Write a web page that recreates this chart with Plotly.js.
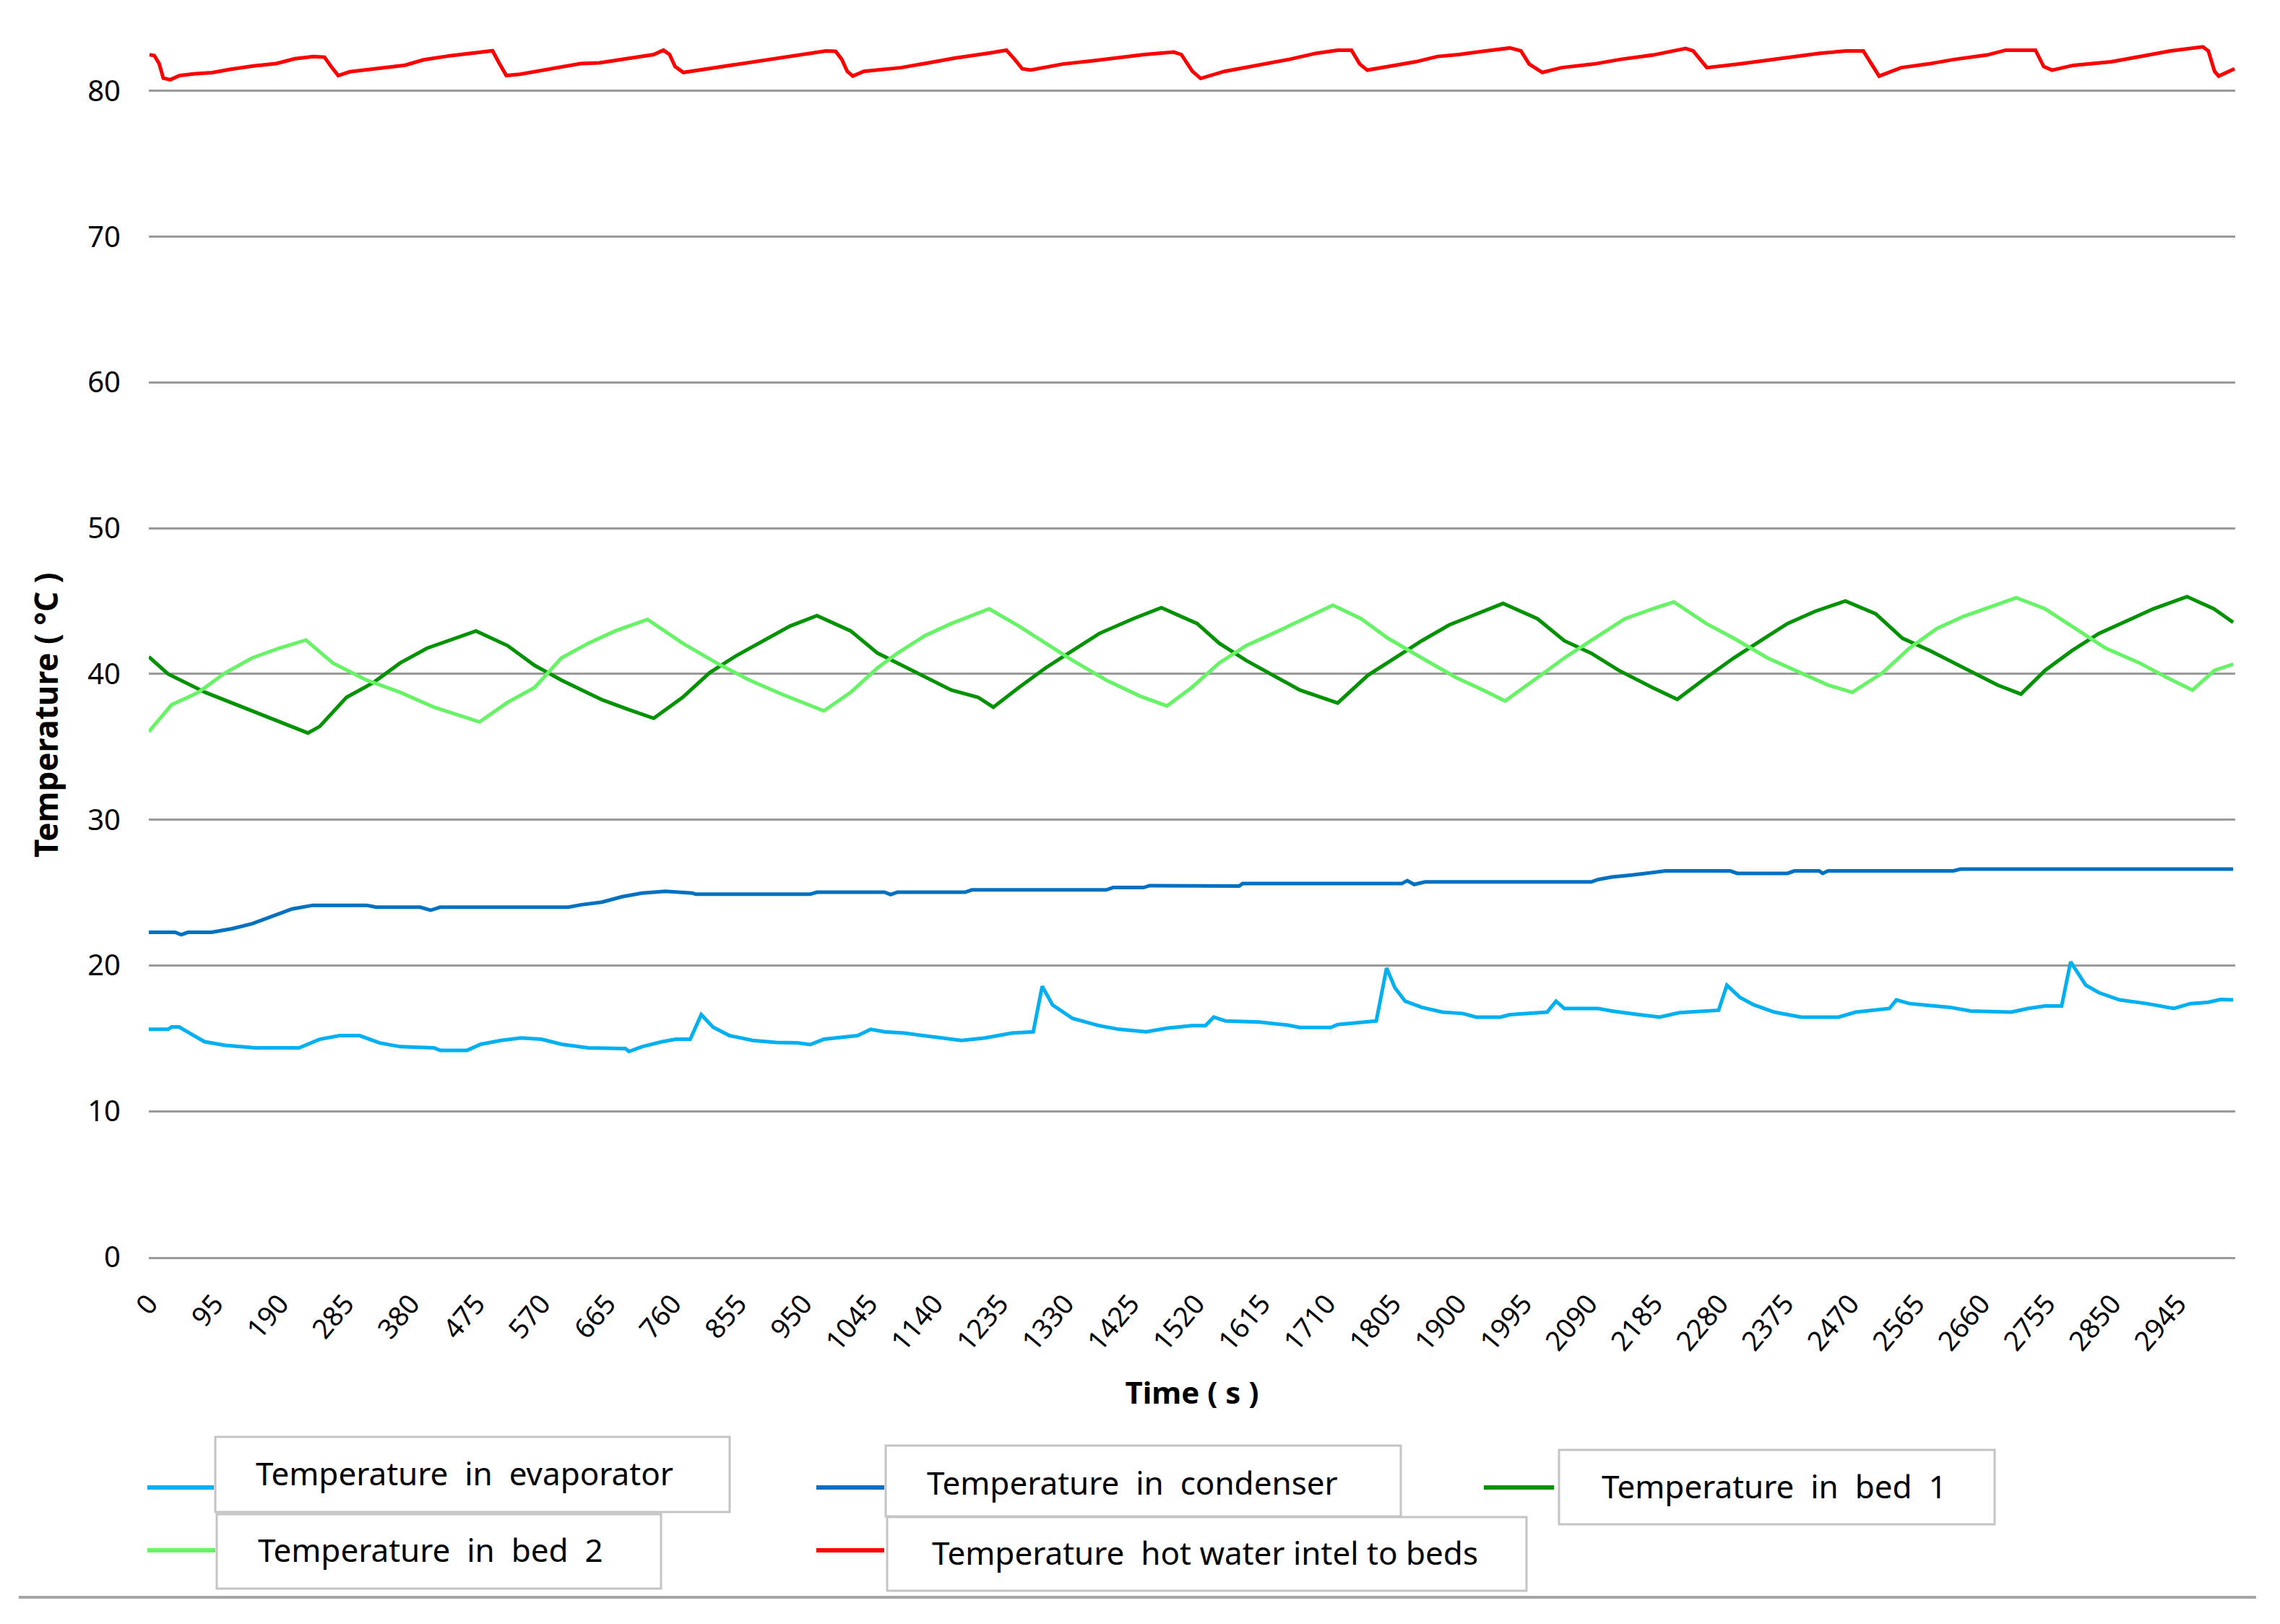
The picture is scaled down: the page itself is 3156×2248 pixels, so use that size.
<!DOCTYPE html>
<html>
<head>
<meta charset="utf-8">
<script src="https://cdn.plot.ly/plotly-3.0.1.min.js"></script>
<style>html,body{margin:0;padding:0;background:#fff;}#chart{width:3156px;height:2248px;}</style>
</head>
<body>
<div id="chart"></div>
<script>
// ---------------- DATA ----------------
const seriesNames = [
  "Temperature  in  evaporator",
  "Temperature  in  condenser",
  "Temperature  in  bed  1",
  "Temperature  in  bed  2",
  "Temperature  hot water intel to beds"
];
const seriesColors = ["#00B0F0", "#0070C0", "#009200", "#66F466", "#FF0000"];

const xTickVals = [0,95,190,285,380,475,570,665,760,855,950,1045,1140,1235,1330,1425,1520,1615,1710,1805,1900,1995,2090,2185,2280,2375,2470,2565,2660,2755,2850,2945];
const xTickText = ["0","95","190","285","380","475","570","665","760","855","950","1045","1140","1235","1330","1425","1520","1615","1710","1805","1900","1995","2090","2185","2280","2375","2470","2565","2660","2755","2850","2945"];

// Temperature in evaporator
const timeEvap = [0,28,33,44,62,81,111,155,218,248,277,306,335,365,414,423,462,482,511,540,570,599,638,692,697,716,745,765,786,802,819,843,877,911,941,960,980,1029,1048,1068,1097,1146,1180,1214,1253,1284,1297,1312,1341,1380,1409,1448,1478,1514,1534,1546,1563,1612,1652,1671,1716,1726,1750,1782,1797,1809,1824,1848,1878,1907,1927,1962,1976,2030,2043,2055,2104,2124,2163,2193,2222,2279,2291,2310,2330,2360,2399,2453,2478,2527,2537,2556,2576,2615,2645,2704,2728,2753,2777,2790,2812,2831,2861,2900,2940,2964,2989,3008,3026];
const tempEvap = [15.62,15.62,15.78,15.78,15.28,14.77,14.52,14.35,14.35,14.94,15.19,15.19,14.69,14.43,14.35,14.18,14.18,14.6,14.86,15.03,14.94,14.6,14.35,14.3,14.1,14.43,14.77,14.94,14.94,16.63,15.78,15.19,14.86,14.72,14.69,14.57,14.94,15.19,15.62,15.45,15.36,15.03,14.86,15.03,15.36,15.45,18.57,17.3,16.37,15.87,15.62,15.45,15.7,15.87,15.87,16.46,16.2,16.12,15.92,15.75,15.75,15.95,16.04,16.2,19.83,18.48,17.55,17.13,16.8,16.71,16.46,16.46,16.63,16.8,17.55,17.05,17.05,16.88,16.63,16.46,16.76,16.93,18.65,17.81,17.3,16.8,16.46,16.46,16.8,17.05,17.64,17.39,17.3,17.13,16.88,16.8,17.05,17.22,17.22,20.25,18.65,18.14,17.64,17.39,17.05,17.39,17.47,17.67,17.64];

// Temperature in condenser
const timeCond = [0,38,47,57,91,121,150,179,208,238,316,330,394,409,423,609,628,658,687,716,750,789,794,960,970,1068,1077,1087,1185,1195,1390,1400,1444,1453,1522,1583,1588,1819,1827,1837,1853,2094,2104,2124,2153,2183,2202,2296,2306,2379,2389,2425,2430,2438,2620,2630,3026];
const tempCond = [22.28,22.28,22.11,22.28,22.28,22.53,22.87,23.37,23.88,24.13,24.13,24.0,24.0,23.79,24.0,24.0,24.17,24.35,24.72,24.97,25.09,24.97,24.89,24.89,25.03,25.03,24.86,25.03,25.03,25.19,25.19,25.35,25.35,25.48,25.48,25.45,25.62,25.62,25.82,25.56,25.73,25.73,25.9,26.07,26.21,26.37,26.49,26.49,26.32,26.32,26.49,26.49,26.32,26.49,26.49,26.61,26.61];

// Temperature in bed 1
const timeBed1 = [0,28,82,189,231,248,287,326,365,404,443,475,521,560,599,658,697,733,775,814,853,892,931,970,1019,1058,1107,1165,1204,1226,1263,1302,1341,1380,1429,1470,1522,1554,1593,1632,1671,1726,1770,1809,1848,1888,1927,1966,2016,2055,2094,2134,2183,2219,2261,2301,2340,2379,2419,2463,2507,2546,2586,2635,2684,2718,2753,2792,2831,2871,2910,2959,2998,3026];
const tempBed1 = [41.18,40.0,38.74,36.7,35.95,36.4,38.4,39.41,40.76,41.77,42.45,42.95,41.94,40.59,39.58,38.23,37.55,36.96,38.4,40.08,41.26,42.28,43.29,44.0,42.95,41.43,40.25,38.9,38.4,37.72,39.07,40.42,41.6,42.78,43.79,44.55,43.46,42.11,40.93,39.92,38.9,38.01,39.92,41.1,42.28,43.37,44.13,44.84,43.79,42.28,41.43,40.25,39.07,38.26,39.75,41.1,42.28,43.46,44.3,45.01,44.13,42.45,41.6,40.42,39.24,38.62,40.25,41.6,42.78,43.63,44.47,45.31,44.47,43.54];

// Temperature in bed 2
const timeBed2 = [0,33,72,111,150,189,228,267,316,365,414,480,521,560,599,638,677,724,775,824,872,921,980,1019,1058,1087,1126,1165,1220,1263,1302,1341,1390,1439,1478,1514,1554,1593,1632,1671,1719,1760,1799,1848,1898,1937,1969,2016,2055,2104,2143,2183,2214,2261,2301,2350,2399,2438,2473,2517,2556,2596,2635,2674,2711,2753,2792,2841,2890,2930,2967,2999,3026];
const tempBed2 = [36.04,37.89,38.74,40.08,41.1,41.77,42.33,40.76,39.58,38.74,37.72,36.71,38.06,39.07,41.1,42.11,42.95,43.74,42.11,40.76,39.58,38.57,37.47,38.74,40.42,41.43,42.61,43.46,44.47,43.29,42.11,40.93,39.58,38.48,37.81,39.07,40.76,41.94,42.78,43.63,44.72,43.79,42.45,41.1,39.75,38.9,38.15,39.75,41.1,42.61,43.79,44.47,44.94,43.46,42.45,41.1,40.08,39.24,38.74,40.08,41.77,43.12,43.96,44.64,45.23,44.47,43.29,41.77,40.76,39.75,38.9,40.25,40.67];

// Temperature hot water inlet to beds
const timeHot = [1,8,15,21,31,45,65,92,118,152,185,212,239,255,265,275,292,332,372,399,439,479,499,509,519,539,586,627,654,678,701,733,747,756,764,776,811,858,897,936,983,997,1006,1014,1022,1038,1092,1132,1171,1218,1245,1257,1268,1280,1327,1374,1405,1445,1488,1499,1515,1527,1562,1609,1656,1695,1726,1746,1758,1769,1797,1839,1871,1902,1941,1976,1992,2004,2023,2051,2098,2137,2184,2231,2242,2262,2309,2371,2426,2465,2489,2501,2512,2544,2583,2622,2669,2696,2739,2751,2763,2794,2849,2888,2935,2982,2990,2999,3005,3028];
const tempHot = [82.49,82.43,81.88,80.88,80.77,81.06,81.17,81.26,81.48,81.72,81.88,82.21,82.36,82.32,81.66,81.06,81.32,81.55,81.77,82.14,82.43,82.65,82.76,81.88,81.06,81.15,81.55,81.88,81.93,82.09,82.26,82.5,82.8,82.5,81.68,81.27,81.52,81.85,82.17,82.42,82.75,82.72,82.17,81.35,81.02,81.35,81.6,81.93,82.26,82.59,82.8,82.17,81.52,81.43,81.85,82.09,82.26,82.5,82.67,82.5,81.35,80.86,81.35,81.76,82.17,82.59,82.8,82.8,81.85,81.43,81.68,82.0,82.37,82.5,82.75,82.95,82.75,81.85,81.27,81.6,81.85,82.17,82.47,82.92,82.75,81.6,81.85,82.26,82.59,82.75,82.75,81.85,81.02,81.6,81.85,82.17,82.47,82.8,82.8,81.68,81.43,81.76,82.0,82.34,82.75,83.03,82.75,81.35,81.02,81.52];

// ---------------- CHART ----------------
const FONT = "Noto Sans, Open Sans, Liberation Sans, sans-serif";
const W = 3156, H = 2248, ML = 206, MR = 62, MT = 20, MB = 508;
const PW = W - ML - MR, PH = H - MT - MB;
const px = x => (x - ML) / PW;          // page pixel -> paper x
const py = y => (H - MB - y) / PH;      // page pixel -> paper y

const xs = [timeEvap, timeCond, timeBed1, timeBed2, timeHot];
const ys = [tempEvap, tempCond, tempBed1, tempBed2, tempHot];
const traces = seriesNames.map((n, i) => ({
  type: "scatter", mode: "lines", name: n,
  x: xs[i], y: ys[i],
  line: {color: seriesColors[i], width: 5}
}));

// legend layout (page pixels): sample line and box for each series
const legendPos = [
  {line:[204,296,2059], box:[298,1989,1010,2093], text:[352,2039]},
  {line:[1130,1224,2059], box:[1226,2001,1939,2099], text:[1281,2052]},
  {line:[2054,2151,2059], box:[2158,2007,2761,2110], text:[2215,2057]},
  {line:[204,298,2146], box:[300,2096,915,2199], text:[355,2145]},
  {line:[1130,1224,2146], box:[1228,2100,2113,2202], text:[1288,2149]}
];
const shapes = [];
const annotations = [];
legendPos.forEach((p, i) => {
  shapes.push({type:"rect", xref:"paper", yref:"paper",
    x0:px(p.box[0]), x1:px(p.box[2]), y0:py(p.box[1]), y1:py(p.box[3]),
    line:{color:"#C4C4C4", width:3}, fillcolor:"rgba(0,0,0,0)"});
  shapes.push({type:"line", xref:"paper", yref:"paper",
    x0:px(p.line[0]), x1:px(p.line[1]), y0:py(p.line[2]), y1:py(p.line[2]),
    line:{color:seriesColors[i], width:6}});
  annotations.push({xref:"paper", yref:"paper", x:px(p.text[0]), y:py(p.text[1]),
    xanchor:"left", yanchor:"middle", showarrow:false, text:seriesNames[i],
    font:{family:FONT, size:44, color:"#000"}});
});
// bottom separator line
shapes.push({type:"line", xref:"paper", yref:"paper", x0:px(26), x1:px(3123), y0:py(2211), y1:py(2211),
  line:{color:"#A6A6A6", width:4}});
// y axis title
annotations.push({xref:"paper", yref:"paper", x:px(63), y:py(990), xanchor:"center", yanchor:"middle",
  showarrow:false, textangle:-90, text:"<b>Temperature ( °C )</b>",
  font:{family:FONT, size:44, color:"#000"}});

const layout = {
  width: W, height: H,
  margin: {l: ML, r: MR, t: MT, b: MB, pad: 0},
  paper_bgcolor: "#fff", plot_bgcolor: "#fff",
  showlegend: false,
  font: {family: FONT, color: "#000"},
  xaxis: {
    range: [0, 3029], tickmode: "array", tickvals: xTickVals, ticktext: xTickText,
    tickangle: -50, tickfont: {family: FONT, size: 38, color: "#000"},
    ticks: "", showgrid: false, zeroline: false,
    showline: true, linecolor: "#9A9A9A", linewidth: 3,
    ticklabelstandoff: 24,
    title: {text: "<b>Time ( s )</b>", font: {family: FONT, size: 42, color: "#000"}, standoff: 36},
    automargin: false
  },
  yaxis: {
    range: [0, 85.25], dtick: 10, tick0: 0,
    tickfont: {family: FONT, size: 40, color: "#000"},
    ticks: "", showgrid: true, gridcolor: "#9A9A9A", gridwidth: 3,
    zeroline: false, showline: false, ticklabelstandoff: 38,
    automargin: false
  },
  shapes: shapes,
  annotations: annotations
};

Plotly.newPlot("chart", traces, layout, {displayModeBar: false, staticPlot: true});
</script>
</body>
</html>
